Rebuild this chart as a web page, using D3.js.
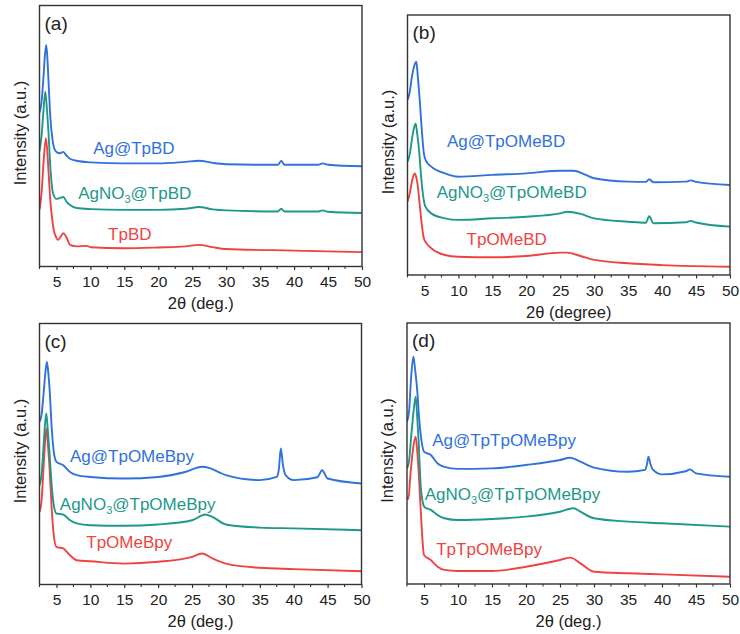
<!DOCTYPE html>
<html>
<head>
<meta charset="utf-8">
<script src="https://d3js.org/d3.v7.min.js"></script>
<title>XRD panels</title>
<style>
  body { margin: 0; background: #fff; }
  svg { display: block; font-family: "Liberation Sans", Arial, sans-serif; }
</style>
</head>
<body>
<svg id="chart" width="740" height="634"></svg>
<script>
// ---- data: [2θ, intensity (a.u., offset-stacked)] ----
const aAg = [[2.5,58.9],[2.8,63],[3.1,73],[3.3,81],[3.5,84.9],[3.7,78],[3.9,67],[4.1,57],[4.4,49],[4.7,45],[5.0,43.9],[5.5,43.4],[6.0,43.9],[6.5,42.4],[7,41.3],[8,40.5],[10,39.9],[15,39.5],[20,39.5],[24,40.1],[26,40.5],[28,39.7],[30,39.2],[35,39.0],[37.6,39.0],[38.1,40.4],[38.6,39.0],[43.5,39.0],[44.2,39.5],[45,39.0],[50,38.4]];
const aAgNO3 = [[2.5,44.1],[2.8,50],[3.1,60],[3.35,67.0],[3.6,60],[3.8,52.4],[4.1,38],[4.5,28],[5.0,25.9],[5.5,26.3],[6.0,26.6],[6.5,24.8],[7,23.6],[8,22.4],[10,22.0],[15,21.7],[20,21.7],[24,22.1],[26,22.8],[28,21.9],[30,21.5],[37.6,21.1],[38.1,22.1],[38.6,21.1],[43.6,21.1],[44.2,21.5],[45,21.0],[50,20.5]];
const aTp = [[2.5,21.7],[2.8,28],[3.1,40],[3.45,49.2],[3.7,42],[3.9,33.2],[4.1,25],[4.3,19.8],[4.6,14],[4.9,11.5],[5.2,10.2],[5.6,11.4],[6.0,12.8],[6.5,11.0],[7,8.3],[8,7.7],[9.5,7.9],[10,7.4],[15,7.0],[20,7.3],[24,7.7],[26,8.3],[28,7.4],[30,6.7],[40,6.1],[50,5.5]];

const bAg = [[2.5,67.3],[2.8,70],[3.2,77],[3.5,80.5],[3.8,82.0],[4.0,77],[4.3,67.3],[4.6,56],[4.9,47],[5.2,44],[6,41.7],[8,39.1],[10,37.8],[15,38.5],[20,39.1],[25,40.1],[27,40.1],[28.5,38.8],[30,37.2],[35,35.9],[37.6,35.8],[38.1,36.8],[38.7,35.7],[43.5,35.9],[44.2,36.4],[45,35.8],[50,34.6]];
const bAgNO3 = [[2.5,43.6],[2.8,46],[3.2,53],[3.5,57],[3.7,58.3],[3.9,55],[4.2,48.1],[4.5,38],[4.8,30.5],[5.1,26.5],[6,23.7],[8,21.8],[10,21.2],[15,21.8],[20,22.4],[25,23.7],[26,24.3],[28,23.5],[30,21.8],[35,20.5],[37.6,20.1],[38.1,22.6],[38.7,19.9],[43.5,20.3],[44.2,20.8],[45,20.2],[50,18.6]];
const bTp = [[2.5,28.2],[2.8,31],[3.2,36.5],[3.55,39.1],[3.8,37.5],[4.0,34.6],[4.3,27],[4.6,19.5],[4.9,14.2],[5.3,12.2],[6,10.3],[8,7.7],[10,7.0],[15,6.8],[20,7.3],[25,8.6],[26,8.6],[28,7.3],[30,5.8],[35,4.5],[40,3.8],[50,3.2]];

const cAg = [[2.5,62.3],[2.8,65],[3.1,73],[3.4,82],[3.6,85.3],[3.8,81],[4.0,74.4],[4.3,60],[4.6,51],[5.0,47.0],[6.0,45.7],[7,43.1],[8,41.9],[10,41.2],[15,40.6],[20,41.2],[24,43.1],[26.5,45.1],[27.5,44.7],[29,43.0],[30,41.9],[35,40.0],[37.5,41.2],[37.8,44],[38.1,52.1],[38.4,46],[38.8,41.9],[40,40.0],[43.5,41.1],[44.2,43.8],[45,40.6],[50,38.7]];
const cAgNO3 = [[2.5,38.0],[2.8,42],[3.1,53],[3.3,61],[3.5,65.5],[3.7,60],[4.0,49.5],[4.3,38],[4.6,30.5],[5.0,27.2],[6.0,26.8],[7,24.6],[8,23.4],[10,22.7],[15,22.5],[20,23.0],[25,24.6],[27,26.8],[28,25.9],[30,23.0],[35,21.8],[40,21.5],[50,20.8]];
const cTp = [[2.5,27.8],[2.8,32],[3.1,45],[3.3,54],[3.5,59.8],[3.7,55],[4.0,43.8],[4.3,29],[4.6,19],[5.0,14.4],[6.0,13.8],[7,11.2],[8,9.3],[10,8.9],[15,8.0],[20,8.7],[25,10.6],[26.5,11.9],[28,10.0],[30,8.0],[35,6.4],[40,5.9],[50,5.1]];

const dAg = [[2.5,62.2],[2.8,66],[3.1,79],[3.44,87.1],[3.7,82],[4.0,74.3],[4.3,63],[4.6,55.5],[5.0,50.7],[6.0,49.4],[7,46.2],[8,44.9],[10,44.1],[15,44.3],[20,45.6],[25,47.5],[26.5,48.4],[28,46.9],[30,44.6],[35,43.0],[37.5,43.7],[37.8,46],[38.0,48.8],[38.3,46],[38.7,43.7],[40,42.0],[43.5,43.2],[44.1,43.9],[45,42.4],[50,41.1]];
const dAgNO3 = [[2.5,44.3],[2.8,47],[3.1,56],[3.5,67],[3.78,71.8],[4.0,64],[4.2,55.2],[4.5,38],[4.8,31.5],[5.1,29.4],[6,28.4],[7,26.4],[8,25.2],[10,24.5],[15,24.9],[20,25.8],[25,27.7],[27,29.0],[28,27.7],[30,25.2],[35,23.9],[40,23.3],[50,22.0]];
const dTp = [[2.5,33.4],[2.7,32.5],[3.0,41.8],[3.4,52],[3.78,56.4],[4.0,51],[4.2,43.7],[4.4,34],[4.6,24.5],[4.8,16],[5.0,11.1],[6,9.2],[7,6.6],[8,5.4],[10,5.0],[15,5.0],[20,6.6],[25,9.2],[26.5,10.1],[28,7.9],[30,4.7],[35,4.1],[40,3.7],[50,2.8]];

const xDomain = [2.5, 50];
const xMajor = [5, 10, 15, 20, 25, 30, 35, 40, 45, 50];
const xMinor = [2.5, 7.5, 12.5, 17.5, 22.5, 27.5, 32.5, 37.5, 42.5, 47.5];

const panelTags = ["(a)", "(b)", "(c)", "(d)"];
const xTitles = ["2θ (deg.)", "2θ (degree)", "2θ (deg.)", "2θ (deg.)"];
const seriesNames = [
  ["Ag@TpBD", "AgNO|3|@TpBD", "TpBD"],
  ["Ag@TpOMeBD", "AgNO|3|@TpOMeBD", "TpOMeBD"],
  ["Ag@TpOMeBpy", "AgNO|3|@TpOMeBpy", "TpOMeBpy"],
  ["Ag@TpTpOMeBpy", "AgNO|3|@TpTpOMeBpy", "TpTpOMeBpy"]
];
const seriesData = [
  [aAg, aAgNO3, aTp],
  [bAg, bAgNO3, bTp],
  [cAg, cAgNO3, cTp],
  [dAg, dAgNO3, dTp]
];
// label anchors in data units [2θ, intensity]
const labelAt = [
  [[10.4, 43.2], [8.2, 25.9], [12.6, 10.2]],
  [[8.3, 49.3], [6.8, 29.5], [11.2, 11.5]],
  [[7.0, 47.0], [5.5, 28.5], [9.4, 13.8]],
  [[6.2, 53.0], [5.1, 32.2], [6.8, 11.1]]
];

// ---- layout ----
const colors = ["#3071de", "#1d988b", "#ef4343"];
const frames = [
  {x0: 39.5, x1: 362, y0: 5.5, y1: 266.5},
  {x0: 407.5, x1: 730, y0: 15, y1: 275},
  {x0: 39.5, x1: 361.5, y0: 323.5, y1: 584.5},
  {x0: 407, x1: 730, y0: 323, y1: 584}
];

const svg = d3.select("#chart");

frames.forEach((f, i) => {
  const x = d3.scaleLinear().domain(xDomain).range([f.x0, f.x1]);
  const y = d3.scaleLinear().domain([0, 100]).range([f.y1, f.y0]);
  const g = svg.append("g");

  const line = d3.line()
    .x(d => x(d[0]))
    .y(d => y(d[1]))
    .curve(d3.curveMonotoneX);

  const clipId = "clip" + i;
  g.append("clipPath").attr("id", clipId)
    .append("rect")
    .attr("x", f.x0).attr("y", f.y0)
    .attr("width", f.x1 - f.x0).attr("height", f.y1 - f.y0);

  // draw bottom series first so blue sits on top
  [2, 1, 0].forEach(k => {
    g.append("path")
      .datum(seriesData[i][k])
      .attr("clip-path", `url(#${clipId})`)
      .attr("fill", "none")
      .attr("stroke", colors[k])
      .attr("stroke-width", 1.9)
      .attr("stroke-linejoin", "round")
      .attr("d", line);
  });

  // series labels
  seriesNames[i].forEach((name, k) => {
    const parts = name.split("|");
    const t = g.append("text")
      .attr("x", x(labelAt[i][k][0]))
      .attr("y", y(labelAt[i][k][1]))
      .attr("fill", colors[k])
      .attr("font-size", 17);
    if (parts.length === 1) {
      t.text(name);
    } else {
      t.append("tspan").text(parts[0]);
      t.append("tspan").attr("font-size", 11).attr("dy", 4).text(parts[1]);
      t.append("tspan").attr("dy", -4).text(parts[2]);
    }
  });

  // bottom axis: major + minor ticks, outward
  const axis = d3.axisBottom(x)
    .tickValues(xMajor)
    .tickSize(3.5)
    .tickPadding(6)
    .tickFormat(d3.format("d"));
  const ax = g.append("g")
    .attr("transform", `translate(0,${f.y1})`)
    .call(axis);
  ax.select(".domain").remove();
  ax.selectAll("line").attr("stroke", "#333").attr("stroke-width", 1.2);
  ax.selectAll("text")
    .attr("font-size", 15.5)
    .attr("fill", "#222")
    .attr("font-family", "\"Liberation Sans\", Arial, sans-serif");

  g.append("g").selectAll("line")
    .data(xMinor)
    .join("line")
    .attr("x1", d => x(d)).attr("x2", d => x(d))
    .attr("y1", f.y1).attr("y2", f.y1 + 2.5)
    .attr("stroke", "#333").attr("stroke-width", 1.1);

  // frame
  g.append("rect")
    .attr("x", f.x0).attr("y", f.y0)
    .attr("width", f.x1 - f.x0).attr("height", f.y1 - f.y0)
    .attr("fill", "none")
    .attr("stroke", "#333")
    .attr("stroke-width", 1.4);

  // titles
  g.append("text")
    .attr("x", (f.x0 + f.x1) / 2)
    .attr("y", f.y1 + 42.5)
    .attr("text-anchor", "middle")
    .attr("font-size", 16.5)
    .attr("fill", "#222")
    .text(xTitles[i]);

  g.append("text")
    .attr("transform", `translate(${f.x0 - 14},${(f.y0 + f.y1) / 2 - 3}) rotate(-90)`)
    .attr("text-anchor", "middle")
    .attr("font-size", 16.5)
    .attr("fill", "#222")
    .text("Intensity (a.u.)");

  g.append("text")
    .attr("x", f.x0 + 5)
    .attr("y", f.y0 + 24)
    .attr("font-size", 19)
    .attr("fill", "#222")
    .text(panelTags[i]);
});
</script>
</body>
</html>
